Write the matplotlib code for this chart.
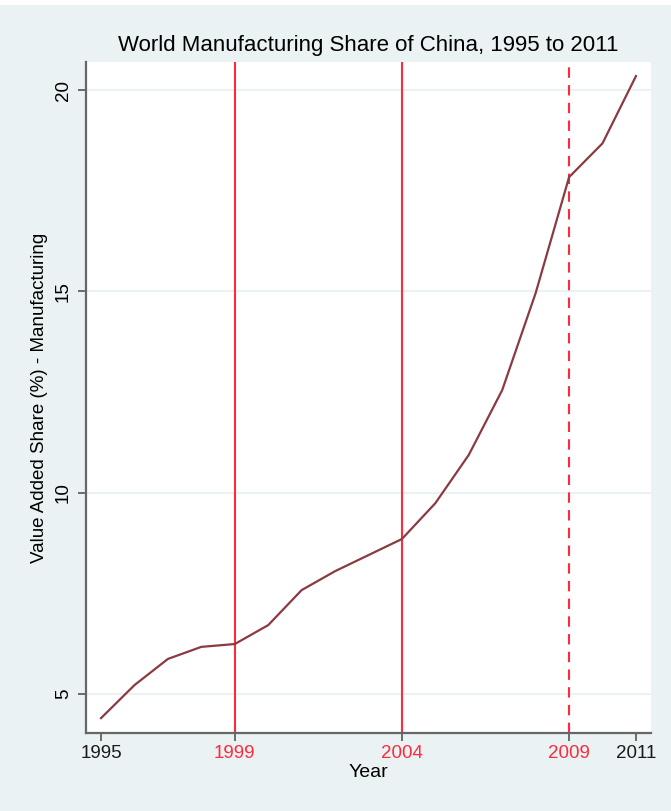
import matplotlib
matplotlib.use("Agg")
import matplotlib.pyplot as plt
from matplotlib.patches import Rectangle

years = [1995, 1996, 1997, 1998, 1999, 2000, 2001, 2002, 2003, 2004,
         2005, 2006, 2007, 2008, 2009, 2010, 2011]
share = [4.40, 5.22, 5.87, 6.17, 6.24, 6.71, 7.58, 8.05, 8.45, 8.85,
         9.74, 10.94, 12.55, 14.96, 17.84, 18.68, 20.35]
solid_events = [1999, 2004]
dashed_events = [2009]
xticks = [1995, 1999, 2004, 2009, 2011]
xtick_colors = ["#1a1a1a", "#ff2a3a", "#ff2a3a", "#ff2a3a", "#1a1a1a"]
yticks = [5, 10, 15, 20]

plt.rcParams['font.family'] = ['Liberation Sans', 'DejaVu Sans']

bg = "#eaf2f3"
fig = plt.figure(figsize=(6.71, 8.11), dpi=100, facecolor=bg)
# white strip at very top
fig.patches.append(Rectangle((0, 1 - 5/811), 1, 5/811, transform=fig.transFigure,
                             facecolor="white", edgecolor="none", zorder=-1))

W, H = 671, 811
left, right, top, bottom = 86, 651, 62, 733
ax = fig.add_axes([left / W, 1 - bottom / H, (right - left) / W, (bottom - top) / H])
ax.set_facecolor("white")

for y in yticks:
    ax.axhline(y, color="#eaf2f3", lw=1.5, zorder=1)

for x in solid_events:
    ax.axvline(x, color="#ff2a3a", lw=1.5, zorder=2)
for x in dashed_events:
    ax.axvline(x, color="#ff2a3a", lw=1.5, ls=(0, (5, 3.5)), zorder=2)

ax.plot(years, share, color="#8b3a42", lw=1.6, zorder=3)

ax.set_xlim(1994.55, 2011.45)
ax.set_ylim(4.03, 20.70)

ax.set_xticks(xticks)
ax.set_xticklabels([str(x) for x in xticks], fontsize=13.5)
for lab, c in zip(ax.get_xticklabels(), xtick_colors):
    lab.set_color(c)
ax.set_yticks(yticks)
ax.set_yticklabels([str(y) for y in yticks], fontsize=13.5, rotation=90, va="center")

ax.tick_params(axis="both", direction="out", length=6, width=1.2, color="#555555")
ax.tick_params(axis="x", pad=3)
ax.tick_params(axis="y", pad=4)

for s in ["top", "right"]:
    ax.spines[s].set_visible(False)
for s in ["left", "bottom"]:
    ax.spines[s].set_color("#666666")
    ax.spines[s].set_linewidth(1.6)

ax.set_xlabel("Year", fontsize=14, labelpad=1)
ax.set_ylabel("Value Added Share (%) - Manufacturing", fontsize=13.5, labelpad=5)
ax.set_title("World Manufacturing Share of China, 1995 to 2011", fontsize=16, pad=8)

fig.savefig("out.png", dpi=100, facecolor=bg)
